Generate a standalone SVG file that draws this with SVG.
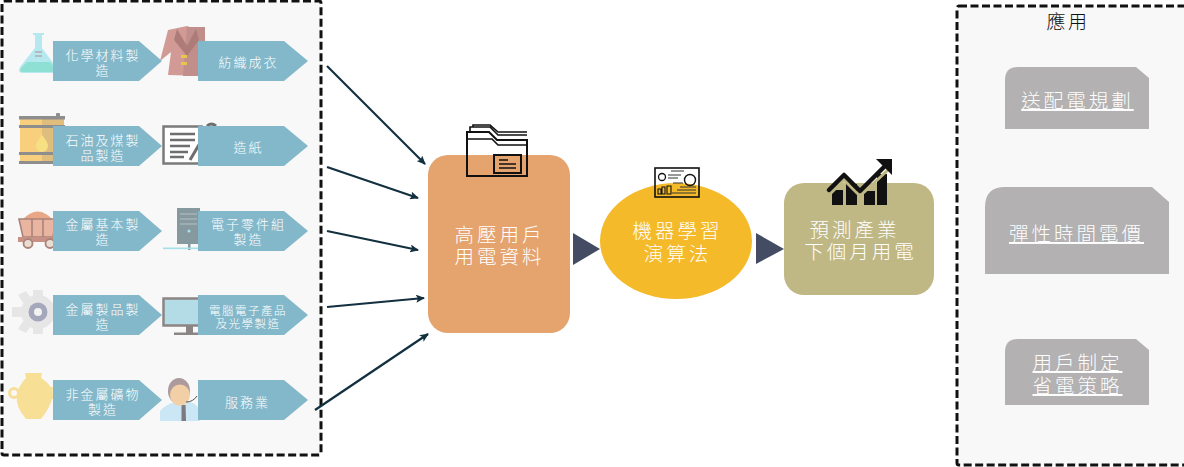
<svg xmlns="http://www.w3.org/2000/svg" width="1184" height="467" viewBox="0 0 1184 467">
<style>
text{font-family:"Liberation Sans","Noto Sans CJK TC","Noto Sans CJK SC",sans-serif;text-anchor:middle}
.panel{fill:#f8f8f8;stroke:#111;stroke-width:3;stroke-dasharray:8 3.500}
.chev{fill:#83b8ca}
.ct{fill:#fff;font-size:13px;letter-spacing:2px;font-weight:300}
.ct2{fill:#fff;font-size:11.500px;letter-spacing:1.500px;font-weight:300}
.big{fill:#fff;font-size:19.500px;letter-spacing:3px;font-weight:300}
.app{fill:#b3b1b2}
.at{fill:#fff;font-size:19.500px;letter-spacing:3px;font-weight:300;text-decoration:underline}
.conn{stroke:#12303f;stroke-width:2.200;fill:none;marker-end:url(#ah)}
.tri{fill:#434c63}
.ico{fill:none;stroke:#111;stroke-width:1.600}
</style>
<defs>
<marker id="ah" markerWidth="10" markerHeight="8" refX="8" refY="4" orient="auto" markerUnits="userSpaceOnUse"><path d="M0 0L9 4L0 8L2 4Z" fill="#12303f"/></marker>
<path id="ch1" d="M0 0H86L109 20L86 40H0Z" class="chev"/>
<path id="ch2" d="M0 0H86L110 20L86 40H0Z" class="chev"/>
</defs>
<rect width="1184" height="467" fill="#fff"/>
<g id="industry-panel">
<rect class="panel" x="2" y="1" width="319" height="454" rx="2"/>
<g id="flask"><path d="M33 33H44V35H42V48L57 68Q58 73 53 73H23Q17 73 20 67L35 48V35H33Z" fill="#b6e8f0"/><path d="M27 62H50L56 69Q56 72 53 72H23Q19 72 21 68Z" fill="#8fe0d4"/><path d="M35 52H42M35 56H42" stroke="#b58a8a" stroke-width="1"/></g>
<g id="coat"><path d="M168 30L187 26L205 33V76L168 75L171 52L160 61Z" fill="#d19a94"/><path d="M187 27H205V76H183Z" fill="#c08e8b"/><path d="M177 29L187 46L196 29L199 40L187 56L174 40Z" fill="#ad7b78"/><rect x="181" y="55" width="6" height="3" fill="#e9c54c"/><rect x="181" y="62" width="6" height="3" fill="#e9c54c"/></g>
<g id="barrel"><rect x="20" y="118" width="44" height="46" fill="#f8cf7c"/><rect x="42" y="118" width="22" height="46" fill="#dfbd7c"/><rect x="19" y="116" width="46" height="3.500" fill="#8e8e8e"/><rect x="19" y="125" width="46" height="3" fill="#8e8e8e"/><rect x="19" y="152" width="46" height="3" fill="#8e8e8e"/><rect x="19" y="161" width="46" height="3" fill="#8e8e8e"/><rect x="56" y="113" width="4" height="4" rx="1" fill="#8e8e8e"/><path d="M42 135Q48 142 48 146A6 6 0 0 1 36 146Q36 142 42 135Z" fill="#f7e084"/></g>
<g id="document"><rect x="163.500" y="126.500" width="38" height="37" fill="#fff" stroke="#7a7a7a" stroke-width="2.500"/><path d="M170 134H195M170 140H195M170 146H190M170 152H188M170 157H184" stroke="#6e6e6e" stroke-width="2.400"/><path d="M190 160L200 143" stroke="#6e6e6e" stroke-width="3"/><path d="M207 126Q211 122 216 126" stroke="#6e6e6e" stroke-width="3" fill="none"/></g>
<g id="cart"><path d="M22 220Q38 203 53 220Z" fill="#e8a786"/><path d="M19 219H56L53 237H23Z" fill="#e9b5a0" stroke="#a8837a" stroke-width="1.600"/><path d="M32 219V237M43 219V237" stroke="#a8837a" stroke-width="1.600"/><rect x="18" y="237" width="38" height="5" fill="#c99185"/><circle cx="28" cy="243.500" r="4.500" fill="#eadcd0" stroke="#a8837a" stroke-width="1.800"/><circle cx="50" cy="243.500" r="4.500" fill="#eadcd0" stroke="#a8837a" stroke-width="1.800"/></g>
<g id="server"><rect x="177" y="208" width="23" height="36" fill="#86999f"/><path d="M180 214H197M180 219H197M180 224H197" stroke="#b5c2c6" stroke-width="1.200"/><circle cx="189" cy="231" r="1.500" fill="#a5e2ee"/><rect x="188" y="244" width="2.500" height="6" fill="#86999f"/><rect x="163" y="247.500" width="36" height="1.600" fill="#a5dfe8"/></g>
<g id="gear"><circle cx="38" cy="312" r="17" fill="#e6e6e6"/><path d="M33 290H43V300H33ZM33 324H43V334H33ZM12 307H24V317H12ZM52 307H60V317H52ZM18 295L26 291L32 299L24 304ZM18 329L26 333L32 325L24 320Z" fill="#e6e6e6"/><circle cx="38" cy="312" r="9.500" fill="#a5a8bd"/><circle cx="38" cy="312" r="4" fill="#f2f2f2"/></g>
<g id="monitor"><rect x="163.500" y="298.500" width="38" height="27" fill="#b4dce6" stroke="#8c8585" stroke-width="2.500"/><rect x="186" y="326" width="7" height="7" fill="#8c8585"/><rect x="174" y="332.500" width="28" height="2.500" fill="#8c8585"/></g>
<g id="vase"><path d="M25 373H42L41 378Q54 386 53 396Q50 408 41 419H26Q15 406 17 396Q18 386 26 378Z" fill="#f8df96"/><circle cx="14" cy="393" r="4.500" fill="none" stroke="#f8df96" stroke-width="3"/><circle cx="53" cy="393" r="4.500" fill="none" stroke="#f8df96" stroke-width="3"/></g>
<g id="person"><path d="M160 421V411Q166 404 176 402H190Q197 404 200 411V421Z" fill="#cbe6f4"/><path d="M181.500 405H185.500L186 421H181.500Z" fill="#7b7a80"/><ellipse cx="179" cy="391" rx="11" ry="13" fill="#ac9a9c"/><ellipse cx="180" cy="395" rx="10" ry="10.500" fill="#f3cfa6"/><path d="M186 402Q193 402 197 396" stroke="#555" stroke-width="1" fill="none"/></g>
</g>
<g id="n-chem"><use href="#ch1" x="53" y="41"/><text class="ct" y="59.500"><tspan x="103">化學材料製</tspan><tspan x="103" y="75">造</tspan></text></g>
<g id="n-textile"><use href="#ch2" x="198" y="41"/><text class="ct" x="248.500" y="67">紡織成衣</text></g>
<g id="n-oil"><use href="#ch1" x="53" y="126"/><text class="ct" y="145"><tspan x="103">石油及煤製</tspan><tspan x="103" y="160">品製造</tspan></text></g>
<g id="n-paper"><use href="#ch2" x="198" y="126"/><text class="ct" x="248.500" y="151.500">造紙</text></g>
<g id="n-metal"><use href="#ch1" x="53" y="211"/><text class="ct" y="229"><tspan x="103">金屬基本製</tspan><tspan x="103" y="244">造</tspan></text></g>
<g id="n-electronic"><use href="#ch2" x="198" y="211"/><text class="ct" y="229"><tspan x="248.500">電子零件組</tspan><tspan x="248.500" y="244">製造</tspan></text></g>
<g id="n-metalprod"><use href="#ch1" x="53" y="295"/><text class="ct" y="314"><tspan x="103">金屬製品製</tspan><tspan x="103" y="329">造</tspan></text></g>
<g id="n-computer"><use href="#ch2" x="198" y="295"/><text class="ct2" y="314.500"><tspan x="248">電腦電子產品</tspan><tspan x="248" y="328">及光學製造</tspan></text></g>
<g id="n-nonmetal"><use href="#ch1" x="53" y="380"/><text class="ct" y="399"><tspan x="103">非金屬礦物</tspan><tspan x="103" y="414">製造</tspan></text></g>
<g id="n-service"><use href="#ch2" x="198" y="380"/><text class="ct" x="247.500" y="407">服務業</text></g>
<g id="connectors">
<path class="conn" d="M327 66L425 164"/>
<path class="conn" d="M327 167L418 198"/>
<path class="conn" d="M327 231L418 250"/>
<path class="conn" d="M327 307L424 298"/>
<path class="conn" d="M315 410L428 334"/>
<path class="tri" d="M573 233L600 249L573 265Z"/>
<path class="tri" d="M756 233L784 249L756 264Z"/>
</g>
<g id="n-data">
<rect x="428" y="155" width="142" height="178" rx="20" fill="#e5a36d"/>
<text class="big" y="241.500"><tspan x="499.500">高壓用戶</tspan><tspan x="499.500" y="264">用電資料</tspan></text>
<g id="folder-icon" class="ico"><path d="M467 176V132H489L497 140H527V176Z" stroke-width="2"/><path d="M470 131V127H490L498 135H527M473 127V125H490L498 132H527"/><path d="M467 139H492L498 145H527"/><rect x="494" y="155" width="27" height="18" stroke-width="2"/><path d="M499 160H508M499 164H516M499 168H516" stroke-width="1.300"/></g>
</g>
<g id="n-ml">
<ellipse cx="676" cy="241" rx="76" ry="58" fill="#f4ba2a"/>
<text class="big" y="237.500"><tspan x="677.500">機器學習</tspan><tspan x="677.500" y="260.500">演算法</tspan></text>
<g id="dashboard-icon"><rect x="655" y="168" width="44" height="29" fill="none" stroke="#111" stroke-width="1.600"/><circle cx="662" cy="177" r="3.500" fill="none" stroke="#111" stroke-width="1.300"/><circle cx="690" cy="180" r="5.500" fill="none" stroke="#111" stroke-width="1.400"/><path d="M668 175H681M668 178H678M673 183H683M680 187H696M677 190H696M672 193H696M671 171H684" stroke="#333" stroke-width="1.100"/><path d="M658 189h3v5h-3zM662 187h3v7h-3zM667 186h4v8h-4z" fill="none" stroke="#111" stroke-width="1.100"/></g>
</g>
<g id="n-forecast">
<rect x="784" y="183" width="150" height="112" rx="20" fill="#bfb784"/>
<text class="big" y="236.500"><tspan x="854.500">預測產業</tspan><tspan x="860.500" y="259">下個月用電</tspan></text>
<g id="chart-icon"><path d="M832 205V190H843V205ZM846 205V184H857V205ZM864 205V191H875V205ZM877 205V174H887V205Z" fill="#111"/><path d="M829 195L844 180L860 196L888 170" fill="none" stroke="#bfb784" stroke-width="3"/><path d="M829 190L844 175L860 191L885 166" fill="none" stroke="#111" stroke-width="4.500" stroke-linejoin="round" stroke-linecap="round"/><path d="M876 159H892V175Z" fill="#111"/></g>
</g>
<g id="apps-panel">
<rect class="panel" x="957" y="6" width="240" height="459" rx="2"/>
<text x="1068" y="29" font-size="19" letter-spacing="2.500" font-weight="300" fill="#111">應用</text>
</g>
<g id="n-dispatch"><path class="app" d="M1005 129V80Q1005 67 1018 67H1136L1149 78V129Z"/><text class="at" x="1077.500" y="108">送配電規劃</text></g>
<g id="n-pricing"><path class="app" d="M985 274V207Q985 187 1005 187H1152L1169 202V274Z"/><text class="at" x="1076.500" y="241">彈性時間電價</text></g>
<g id="n-saving"><path class="app" d="M1005 405V352Q1005 339 1018 339H1136L1149 350V405Z"/><text class="at" y="370"><tspan x="1077.500">用戶制定</tspan><tspan x="1077.500" y="393">省電策略</tspan></text></g>
</svg>
